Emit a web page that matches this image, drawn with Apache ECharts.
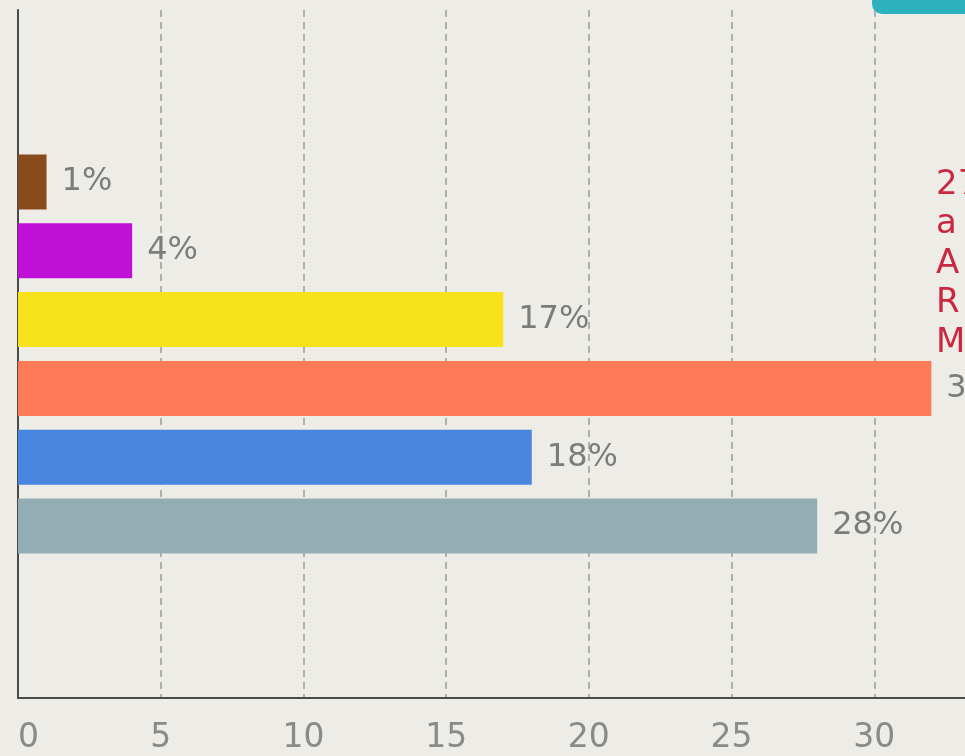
<!DOCTYPE html>
<html>
<head>
<meta charset="utf-8">
<script src="https://cdn.jsdelivr.net/npm/echarts@6/dist/echarts.min.js"></script>
<style>
  html, body { margin: 0; padding: 0; background: #eeece7; overflow: hidden; }
  /* the plot runs past the right edge of the window, as in the cropped original */
  #chart { width: 1017px; height: 756px; }
</style>
</head>
<body>
<div id="chart"></div>
<script>
// rows from top to bottom (first two and last two are empty slots)
var categories = ['r1', 'r2', 'r3', 'r4', 'r5', 'r6', 'r7', 'r8', 'r9', 'r10'];
var values = [null, null, 1, 4, 17, 32, 18, 28, null, null];
var barColors = ['#888', '#888', '#8a4b1c', '#c00fd6', '#f7e21b', '#ff7b58', '#4886e0', '#93adb5', '#888', '#888'];
var xTicks = [0, 5, 10, 15, 20, 25, 30, 35];
var sideText = ['27', 'a', 'A', 'R', 'M'];

function drawBars(id) {
    var seriesData = [];
    for (var i = 0; i < values.length; i++) {
        seriesData.push({ value: values[i], itemStyle: { color: barColors[i] } });
    }

    var textEls = [];
    for (var j = 0; j < sideText.length; j++) {
        textEls.push({
            type: 'text',
            left: 936,
            top: 168 + j * 39.5,
            style: {
                text: sideText[j],
                fill: '#c9283f',
                font: '34px "DejaVu Sans"'
            }
        });
    }

    var option = {
        backgroundColor: '#eeece7',
        animation: false,
        grid: {
            left: 18,
            right: 0,
            top: 10,
            bottom: 58,
            outerBoundsMode: 'none'
        },
        xAxis: {
            type: 'value',
            min: xTicks[0],
            max: xTicks[xTicks.length - 1],
            interval: 5,
            axisLine: { show: true, lineStyle: { color: '#4a4a4a', width: 2 } },
            axisTick: { show: false },
            axisLabel: {
                color: '#8a8a8a',
                fontSize: 33,
                fontFamily: 'DejaVu Sans',
                margin: 24,
                alignMinLabel: 'left'
            },
            splitLine: {
                show: true,
                lineStyle: { color: '#9a9a9a', type: [7, 5], width: 1.5 }
            }
        },
        yAxis: {
            type: 'category',
            inverse: true,
            data: categories,
            axisLine: { show: true, lineStyle: { color: '#4a4a4a', width: 2 } },
            axisTick: { show: false },
            axisLabel: { show: false },
            splitLine: { show: false }
        },
        series: [{
            type: 'bar',
            barWidth: '80%',
            data: seriesData,
            label: {
                show: true,
                position: 'right',
                distance: 15,
                formatter: '{c}%',
                color: '#7c7c7c',
                fontSize: 32,
                fontFamily: 'DejaVu Sans'
            }
        }],
        graphic: [
            {
                type: 'rect',
                left: 872,
                top: -22,
                shape: { width: 150, height: 36, r: 10 },
                style: { fill: '#2db1bf' }
            }
        ].concat(textEls)
    };

    var myChart = echarts.init(document.getElementById(id));
    myChart.setOption(option);
}

drawBars('chart');
</script>
</body>
</html>
